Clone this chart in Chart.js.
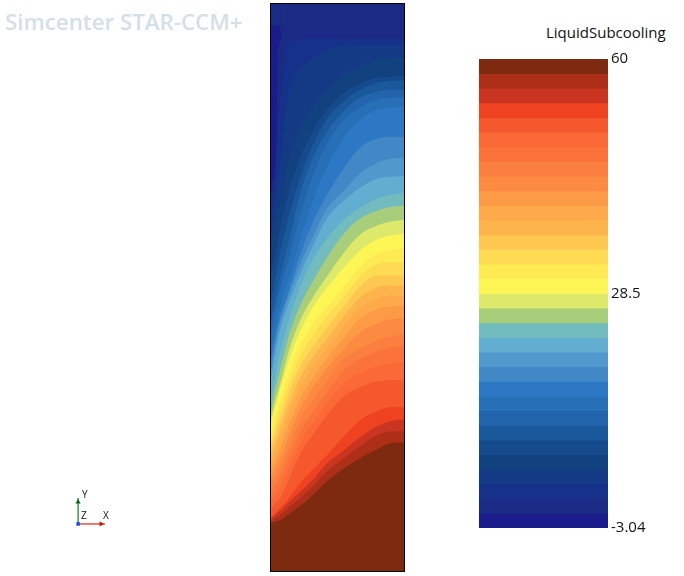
<!DOCTYPE html>
<html>
<head>
<meta charset="utf-8">
<style>
  body { margin: 0; background: #fff; width: 684px; height: 576px; overflow: hidden; position: relative; font-family: "Open Sans", sans-serif; }
  .box { position: absolute; }
  .txt { position: absolute; white-space: nowrap; }
  #frame { left: 270px; top: 3px; width: 135px; height: 569px; border: 1px solid #000; box-sizing: border-box; }
</style>
<script src="https://cdn.jsdelivr.net/npm/chart.js@4"></script>
</head>
<body>
<div class="txt" style="left:5px;top:6px;font-size:22.3px;font-weight:600;color:#d3e0e7">Simcenter STAR-CCM+</div>
<div class="txt" style="left:546px;top:22px;font-size:15px;color:#111">LiquidSubcooling</div>
<div class="box" id="frame"><canvas id="contour" width="133" height="567"></canvas></div>
<div class="box" style="left:479px;top:40px"><canvas id="scalebar" width="189" height="500"></canvas></div>
<div class="box" style="left:70px;top:490px"><canvas id="triad" width="44" height="42"></canvas></div>
<div class="txt" style="left:82px;top:487px;font-size:10px;color:#111">Y</div>
<div class="txt" style="left:81px;top:508px;font-size:10px;color:#111">Z</div>
<div class="txt" style="left:103px;top:508px;font-size:10px;color:#111">X</div>
<script>
// legend levels, top to bottom
const levels = [60, 58.03, 56.06, 54.09, 52.12, 50.15, 48.18, 46.21, 44.24, 42.27, 40.30, 38.33, 36.36, 34.39, 32.42, 30.45, 28.48,
    26.51, 24.54, 22.57, 20.60, 18.63, 16.66, 14.69, 12.72, 10.75, 8.78, 6.81, 4.84, 2.87, 0.90, -1.07, -3.04];
const tickValues = [60, 28.5, -3.04];
const bandColors = ['#7e2a10', '#ae2f18', '#c93520', '#ee4220', '#f4582c', '#fb6a36', '#fb723a', '#fb7f3e',
    '#fd8a41', '#fd9a45', '#feaa4a', '#feb44c', '#fec750', '#fedb52', '#feeb54', '#fdf655',
    '#dce96a', '#a8cd7b', '#72bcc0', '#62aed0', '#5199cc', '#4288c7', '#2c78c5', '#2770b7',
    '#2265ad', '#19589a', '#154a8c', '#11417f', '#143a85', '#16318a', '#1a2a85', '#1b1c8c'];

// position across the section, and depth of each band's upper edge at those positions
const xs = [0, 3, 9, 18, 30, 43, 56, 73, 89, 106, 120, 133];
const edge1 = [520, 519, 517, 511, 502, 491, 478, 465, 455, 446, 440, 439];
const edge2 = [518, 516, 512, 504, 494, 482, 468, 455, 443, 432, 428, 428];
const edge3 = [516, 513, 508, 499, 488, 475, 460, 447, 434, 423, 418, 416];
const edge4 = [514, 511, 505, 495, 479, 465, 452, 433, 417, 408, 404, 404];
const edge5 = [507, 502, 495, 476, 449, 430, 412, 393, 384, 378, 377, 377];
const edge6 = [499, 494, 485, 465, 438, 418, 400, 380, 370, 363, 360, 359];
const edge7 = [491, 485, 475, 454, 427, 407, 389, 367, 356, 348, 344, 343];
const edge8 = [483, 477, 466, 444, 415, 395, 377, 355, 345, 337, 333, 330];
const edge9 = [475, 468, 456, 433, 404, 383, 365, 345, 329, 320, 316, 315];
const edge10 = [467, 460, 446, 422, 394, 373, 355, 334, 315, 306, 303, 302];
const edge11 = [459, 451, 436, 411, 383, 362, 345, 323, 304, 295, 292, 292];
const edge12 = [451, 443, 426, 401, 373, 352, 335, 313, 294, 284, 282, 282];
const edge13 = [443, 434, 417, 390, 362, 342, 324, 303, 283, 272, 272, 272];
const edge14 = [436, 426, 407, 380, 351, 330, 313, 293, 273, 261, 259, 259];
const edge15 = [428, 417, 397, 369, 340, 319, 303, 283, 263, 250, 246, 245];
const edge16 = [420, 409, 387, 357, 326, 302, 284, 264, 247, 236, 232, 230];
const edge17 = [414, 402, 381, 347, 315, 292, 273, 249, 231, 222, 218, 216];
const edge18 = [407, 392, 367, 332, 300, 276, 254, 230, 215, 207, 203, 202];
const edge19 = [394, 379, 349, 316, 282, 254, 235, 216, 204, 195, 191, 189];
const edge20 = [375, 357, 327, 299, 269, 240, 215, 197, 184, 175, 173, 172];
const edge21 = [367, 349, 319, 291, 259, 231, 205, 187, 170, 159, 155, 154];
const edge22 = [357, 340, 314, 287, 249, 216, 191, 164, 144, 135, 133, 133];
const edge23 = [345, 332, 303, 274, 234, 194, 163, 134, 116, 106, 104, 103];
const edge24 = [332, 315, 287, 255, 209, 169, 140, 116, 104, 96, 94, 94];
const edge25 = [317, 302, 275, 237, 187, 152, 128, 107, 94, 88, 86, 86];
const edge26 = [297, 282, 249, 212, 171, 138, 115, 97, 86, 79, 77, 77];
const edge27 = [272, 257, 225, 187, 152, 125, 106, 89, 80, 74, 73, 72];
const edge28 = [242, 226, 197, 157, 122, 102, 87, 72, 62, 55, 53, 53];
const edge29 = [227, 202, 162, 87, 65, 54, 47, 42, 41, 41, 41, 41];
const edge30 = [192, 182, 97, 39, 35, 35, 35, 35, 35, 35, 35, 35];

// the coldest band only shows as a thin strip along the left wall
const stripXs = [0, 6, 9, 11];
const stripEdge = [21, 21, 24, 30];
const wallXs = [0, 3, 5, 6, 7, 10, 11, 133];
const wallEdge = [184, 175, 167, 97, 47, 35, 0, 0];

const edges = [edge1, edge2, edge3, edge4, edge5, edge6, edge7, edge8, edge9, edge10, edge11, edge12, edge13, edge14, edge15,
    edge16, edge17, edge18, edge19, edge20, edge21, edge22, edge23, edge24, edge25, edge26, edge27, edge28, edge29, edge30];

const depthMax = 568;

function band(px, py, color) {
    return {
        data: px.map((x, i) => ({ x: x, y: py[i] })),
        backgroundColor: color,
        borderWidth: 0,
        pointRadius: 0,
        cubicInterpolationMode: 'monotone',
        fill: { value: depthMax }
    };
}

// first dataset is painted last, so the hot band at the bottom goes first
const contourSets = edges.map((e, i) => band(xs, e, bandColors[i]));
contourSets.push(band(wallXs, wallEdge, bandColors[30]));
contourSets.push(band(stripXs, stripEdge, bandColors[31]));
contourSets.push(band([0, 133], [0, 0], bandColors[30]));

new Chart(document.getElementById('contour'), {
    type: 'line',
    data: { datasets: contourSets },
    options: {
        responsive: false,
        animation: false,
        layout: { autoPadding: false },
        plugins: { legend: { display: false }, tooltip: { enabled: false } },
        scales: {
            x: { type: 'linear', min: 0, max: 133, display: false },
            y: { type: 'linear', min: 0, max: depthMax, reverse: true, display: false }
        }
    }
});

new Chart(document.getElementById('scalebar'), {
    type: 'bar',
    data: {
        labels: ['LiquidSubcooling'],
        datasets: bandColors.map((c, i) => ({
            data: [[levels[i + 1], levels[i]]],
            backgroundColor: c,
            borderWidth: 0
        }))
    },
    options: {
        responsive: false,
        animation: false,
        layout: { autoPadding: false, padding: { top: 19, bottom: 11 } },
        datasets: { bar: { grouped: false, barPercentage: 1, categoryPercentage: 1 } },
        plugins: { legend: { display: false }, tooltip: { enabled: false } },
        scales: {
            x: { display: false },
            y: {
                position: 'right',
                min: -3.04,
                max: 60,
                grid: { display: false, drawTicks: false },
                border: { display: false },
                afterFit: (scale) => { scale.width = 60; },
                afterBuildTicks: (scale) => { scale.ticks = tickValues.map(v => ({ value: v })); },
                ticks: {
                    autoSkip: false,
                    padding: 3,
                    color: '#111',
                    font: { family: 'Open Sans', size: 15 },
                    callback: (v) => String(v)
                }
            }
        }
    }
});

// orientation triad
const triadPos = [0, 0.85, 1];
const triadZero = [0, 0, 0];

new Chart(document.getElementById('triad'), {
    type: 'scatter',
    data: {
        datasets: [
            { data: [{ x: 0, y: 0 }], pointStyle: 'rect', pointRadius: 2.5, backgroundColor: '#2048e8', borderWidth: 0 },
            {
                data: triadPos.map((p, i) => ({ x: p, y: triadZero[i] })),
                showLine: true, borderColor: '#e0200c', borderWidth: 1.2,
                backgroundColor: '#c01c0c', pointStyle: 'triangle', pointRotation: 90, pointRadius: [0, 3, 0], pointBorderWidth: 0
            },
            {
                data: triadPos.map((p, i) => ({ x: triadZero[i], y: p })),
                showLine: true, borderColor: '#0a7a1a', borderWidth: 1.2,
                backgroundColor: '#0a6a14', pointStyle: 'triangle', pointRadius: [0, 3, 0], pointBorderWidth: 0
            }
        ]
    },
    options: {
        responsive: false,
        animation: false,
        layout: { autoPadding: false },
        plugins: { legend: { display: false }, tooltip: { enabled: false } },
        scales: {
            x: { min: -0.3, max: 1.33, display: false },
            y: { min: -0.31, max: 1.31, display: false }
        }
    }
});
</script>
</body>
</html>
